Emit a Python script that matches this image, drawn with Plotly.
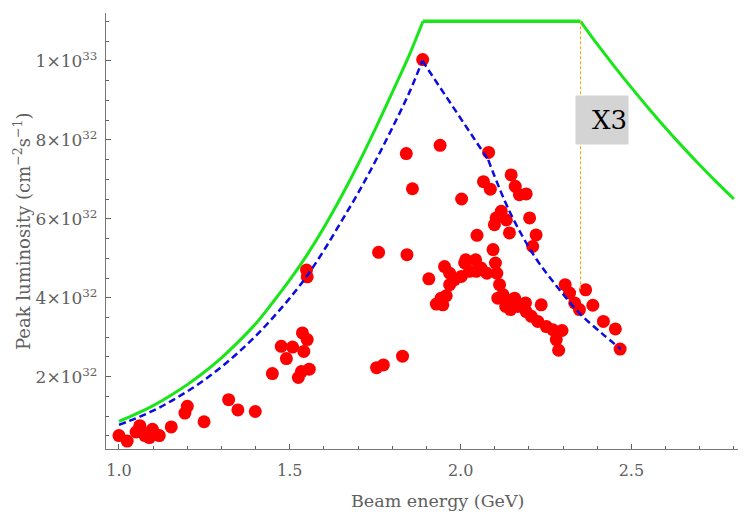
import plotly.graph_objects as go

# ---- data (luminosity in units of 1e32 cm^-2 s^-1, energy in GeV) ----
meas_energy = [1.000, 1.024, 1.050, 1.061, 1.066, 1.076, 1.089, 1.098, 1.118, 1.153,
               1.193, 1.200, 1.249, 1.321, 1.348, 1.399, 1.449, 1.475, 1.490, 1.508,
               1.537, 1.551, 1.541, 1.525, 1.534, 1.557, 1.549, 1.551,
               1.754, 1.774, 1.830, 1.760, 1.843, 1.841, 1.859, 1.889, 1.940, 1.907,
               2.082, 2.003, 2.067, 2.087, 2.148, 2.160, 2.192, 2.172, 2.202, 2.221,
               2.211, 2.119, 2.104, 2.134, 2.099, 2.143, 2.048, 2.095, 2.015, 2.044,
               1.929, 1.948, 1.953, 1.968, 1.968, 1.982, 2.002, 2.012, 2.026, 2.046,
               2.060, 2.077, 2.102, 2.106, 2.114, 2.109, 2.132, 2.124, 2.158, 2.168,
               2.190, 2.192, 2.207, 2.236, 2.226, 2.251, 2.270, 2.297, 2.280, 2.287,
               1.958, 1.943, 2.143, 2.146,
               2.306, 2.319, 2.334, 2.348, 2.366, 2.387, 2.418, 2.453, 2.467]
meas_lumi = [0.51, 0.37, 0.60, 0.76, 0.62, 0.51, 0.46, 0.67, 0.51, 0.73,
             1.08, 1.25, 0.86, 1.42, 1.16, 1.12, 2.08, 2.77, 2.46, 2.75,
             3.11, 2.94, 2.64, 1.98, 2.13, 2.19, 4.70, 4.53,
             2.23, 2.30, 2.52, 5.15, 5.09, 7.65, 6.76, 10.03, 7.86, 4.48,
             7.68, 6.50, 6.94, 6.75, 7.11, 6.82, 6.63, 6.61, 6.02, 5.59,
             5.30, 6.19, 6.02, 5.97, 5.85, 5.64, 5.58, 5.22, 4.96, 4.96,
             3.84, 3.82, 4.79, 4.62, 4.33, 4.46, 4.54, 4.88, 4.67, 4.67,
             4.75, 4.62, 4.88, 4.62, 4.33, 3.99, 3.78, 4.08, 3.99, 3.78,
             3.87, 3.65, 3.53, 3.82, 3.40, 3.27, 3.19, 3.17, 2.94, 2.67,
             4.05, 3.99, 3.87, 3.70,
             4.33, 4.12, 3.87, 3.70, 4.20, 3.81, 3.40, 3.21, 2.70]

# design limit (green): rising part, plateau, falling part
limit_rise_energy = [1.00, 1.05, 1.10, 1.15, 1.20, 1.25, 1.30, 1.35, 1.40, 1.45,
                     1.50, 1.55, 1.60, 1.65, 1.70, 1.75, 1.80, 1.85, 1.89]
limit_rise_lumi = [0.87, 1.06, 1.27, 1.52, 1.80, 2.12, 2.48, 2.89, 3.34, 3.88,
                   4.45, 5.08, 5.78, 6.55, 7.38, 8.27, 9.20, 10.15, 11.0]
limit_fall_energy = [2.351, 2.40, 2.45, 2.50, 2.55, 2.60, 2.65, 2.70, 2.75, 2.80]
limit_fall_lumi = [11.0, 10.42, 9.86, 9.32, 8.80, 8.30, 7.82, 7.36, 6.92, 6.50]

# envelope of achieved luminosity (blue dashed)
env_rise_energy = [1.00, 1.05, 1.10, 1.15, 1.20, 1.25, 1.30, 1.35, 1.40, 1.45,
                   1.50, 1.55, 1.60, 1.65, 1.70, 1.75, 1.80, 1.85, 1.888]
env_rise_lumi = [0.78, 0.95, 1.14, 1.37, 1.63, 1.92, 2.25, 2.62, 3.03, 3.49,
                 3.99, 4.55, 5.20, 5.92, 6.65, 7.45, 8.30, 9.20, 10.0]
env_fall_energy = [2.081, 2.143, 2.217, 2.286, 2.349, 2.416, 2.469]
env_fall_lumi = [7.49, 6.19, 5.04, 4.24, 3.60, 3.08, 2.70]

# X3 marker line
x3_energy = 2.351
x3_lumi_top = 11.0
x3_lumi_bottom = 4.2
x3_label = "X3"

y_tick_vals = [2, 4, 6, 8, 10]
y_tick_text = ["2×10<sup>32</sup>", "4×10<sup>32</sup>", "6×10<sup>32</sup>",
               "8×10<sup>32</sup>", "1×10<sup>33</sup>"]

x_range = [0.962, 2.812]
y_range = [0.17, 11.21]

GREEN = "rgb(25,230,25)"
BLUE = "rgb(10,10,225)"
RED = "rgb(255,0,0)"
GRAY = "#606060"
FONT = "DejaVu Serif"

fig = go.Figure()

fig.add_trace(go.Scatter(x=meas_energy, y=meas_lumi, mode="markers",
                         marker=dict(color=RED, size=13, line=dict(width=0)),
                         showlegend=False))

# green limit
fig.add_trace(go.Scatter(x=limit_rise_energy, y=limit_rise_lumi, mode="lines",
                         line=dict(color=GREEN, width=3, shape="spline"), showlegend=False))
fig.add_trace(go.Scatter(x=[limit_rise_energy[-1], limit_fall_energy[0]],
                         y=[limit_rise_lumi[-1], limit_fall_lumi[0]], mode="lines",
                         line=dict(color=GREEN, width=3.5), showlegend=False))
fig.add_trace(go.Scatter(x=limit_fall_energy, y=limit_fall_lumi, mode="lines",
                         line=dict(color=GREEN, width=3, shape="spline"), showlegend=False))

# blue envelope
dash = "7px,4px"
fig.add_trace(go.Scatter(x=env_rise_energy, y=env_rise_lumi, mode="lines",
                         line=dict(color=BLUE, width=2.5, dash=dash, shape="spline"), showlegend=False))
fig.add_trace(go.Scatter(x=[env_rise_energy[-1], env_fall_energy[0]],
                         y=[env_rise_lumi[-1], env_fall_lumi[0]], mode="lines",
                         line=dict(color=BLUE, width=2.5, dash=dash), showlegend=False))
fig.add_trace(go.Scatter(x=env_fall_energy, y=env_fall_lumi, mode="lines",
                         line=dict(color=BLUE, width=2.5, dash=dash, shape="spline"), showlegend=False))

# orange X3 line
fig.add_trace(go.Scatter(x=[x3_energy, x3_energy], y=[x3_lumi_top, x3_lumi_bottom], mode="lines",
                         line=dict(color="orange", width=1, dash="3px,2px"), showlegend=False))

fig.add_annotation(x=2.415, y=8.50, xref="x", yref="y", text=x3_label, showarrow=False,
                   width=50, height=46, align="right", bgcolor="#d4d4d4",
                   font=dict(family=FONT, size=26, color="black"))

axis_common = dict(showgrid=False, zeroline=False, ticks="inside",
                   tickcolor=GRAY, linecolor="#777777")

fig.update_layout(
    width=744, height=514,
    margin=dict(l=106, r=6, t=13, b=65),
    plot_bgcolor="white", paper_bgcolor="white",
    font=dict(family=FONT, color=GRAY),
    xaxis=dict(range=x_range, showline=True, linewidth=1.3, tick0=1.0, dtick=0.5,
               tickformat=".1f", ticklen=5, tickwidth=1,
               tickfont=dict(family=FONT, size=16, color=GRAY), ticklabelstandoff=7,
               minor=dict(tick0=1.0, dtick=0.1, ticks="inside", ticklen=3, tickcolor=GRAY),
               **axis_common),
    yaxis=dict(range=y_range, showline=True, linewidth=1.3, tickmode="array",
               tickvals=y_tick_vals, ticktext=y_tick_text, ticklen=5, tickwidth=1,
               tickfont=dict(family=FONT, size=17, color=GRAY), ticklabelstandoff=4,
               minor=dict(tick0=0, dtick=0.5, ticks="inside", ticklen=3, tickcolor=GRAY),
               **axis_common),
    xaxis2=dict(range=x_range, overlaying="x", side="top", anchor="y", showline=False,
                showticklabels=False, tick0=1.0, dtick=0.5, ticklen=4,
                minor=dict(tick0=1.0, dtick=0.1, ticks="inside", ticklen=2.5, tickcolor="#999"),
                **axis_common),
    yaxis2=dict(range=y_range, overlaying="y", side="right", anchor="x", showline=False,
                showticklabels=False, tickmode="array", tickvals=y_tick_vals, ticklen=4,
                minor=dict(tick0=0, dtick=0.5, ticks="inside", ticklen=2.5, tickcolor="#999"),
                **axis_common),
)

fig.add_annotation(x=(437 - 106) / 632, y=-(501 - 449) / 436, xref="paper", yref="paper",
                   text="Beam energy (GeV)", showarrow=False, xanchor="center", yanchor="middle",
                   font=dict(family=FONT, size=17.5, color=GRAY))
fig.add_annotation(x=-(106 - 22) / 632, y=0.5, xref="paper", yref="paper",
                   text="Peak luminosity (cm<sup>−2</sup>s<sup>−1</sup>)", showarrow=False,
                   textangle=-90, xanchor="center", yanchor="middle",
                   font=dict(family=FONT, size=18, color=GRAY))

fig.write_html("out.html")
